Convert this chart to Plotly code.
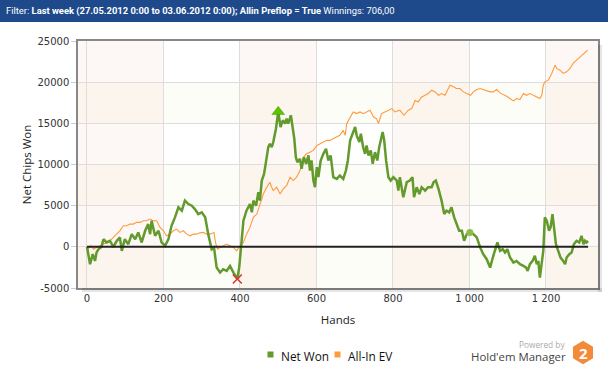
import math
import plotly.graph_objects as go

# ---------------- data ----------------
net_hands = [0, 8, 15, 21, 25, 30, 38, 43, 51, 60, 69, 78, 86, 91, 99, 108, 117, 126, 134, 143, 152,
             160, 165, 169, 178, 187, 195, 204, 213, 221, 230, 239, 248, 256, 265, 274, 282, 291, 300,
             309, 317, 326, 332, 339, 348, 356, 365, 374, 383, 393, 398, 403, 409, 417, 426, 431, 435,
             442, 448, 452, 457, 463, 470, 474, 478, 483, 487, 494, 500, 506, 512, 518, 522, 526, 533,
             538, 542, 546, 550, 557, 561, 567, 573, 579, 583, 587, 592, 596, 601, 605, 611, 618, 625,
             631, 637, 644, 653, 661, 670, 677, 682, 688, 695, 701, 705, 712, 716, 722, 727, 731, 736,
             742, 747, 753, 759, 764, 773, 777, 782, 788, 794, 801, 810, 814, 818, 827, 836, 844, 851,
             855, 862, 869, 875, 884, 892, 901, 906, 912, 919, 927, 934, 940, 947, 953, 960, 966, 973,
             980, 986, 993, 1001, 1010, 1019, 1028, 1036, 1045, 1054, 1061, 1067, 1073, 1080, 1087,
             1093, 1099, 1106, 1115, 1123, 1132, 1141, 1148, 1152, 1158, 1165, 1171, 1176, 1180, 1184,
             1189, 1193, 1197, 1202, 1208, 1212, 1217, 1222, 1226, 1232, 1238, 1245, 1250, 1254, 1261,
             1267, 1273, 1280, 1287, 1293, 1298, 1302, 1306, 1310]
net_won = [0, -2110, -890, -1710, -690, -290, 0, 930, 530, 730, 0, 730, 1140, -490, 930, 320, 1540,
           930, 1750, 530, 1950, 2760, 1540, 3170, 1340, 1950, 530, 120, 930, 2560, 3580, 4800, 4390,
           5610, 5200, 5000, 4590, 3980, 4190, 3580, 1540, -290, -80, -2520, -3130, -2720, -2930,
           -2320, -3130, -3900, -2500, 0, 3170, 4390, 5200, 4190, 5610, 5000, 6630, 5610, 8050, 8860,
           10890, 12110, 12520, 12110, 12720, 14350, 16400, 14550, 15370, 14960, 15570, 14960, 15980,
           14150, 13130, 10890, 10280, 10690, 9470, 10890, 10080, 11100, 9270, 10490, 8050, 7240,
           9680, 8460, 10490, 11300, 11910, 10490, 11100, 8460, 8250, 8660, 8250, 9270, 10490, 12930,
           13740, 14550, 13540, 12720, 13740, 12110, 11300, 12320, 11100, 11710, 10080, 11500, 10490,
           12110, 13940, 12930, 10490, 8460, 8050, 8460, 8050, 6830, 8460, 6020, 7850, 8050, 8460,
           6020, 7240, 6420, 7240, 6830, 7240, 7240, 7850, 8050, 7030, 5610, 3980, 4390, 4190, 4800,
           3580, 2760, 1950, 1950, 730, 1540, 1750, 1540, 1140, -80, -890, -1500, -2520, -1300, -490,
           530, -490, -290, -690, -290, -1300, -1910, -1710, -2110, -2320, -2520, -2930, -2110, -1710,
           -1100, -2110, -1710, -3740, -1710, -490, 3580, 3170, 1950, 2360, 3980, 1950, 330, -490,
           -1300, -1710, -2110, -1300, -890, -690, 330, 730, 530, 1340, 330, 730, 530, 706]

ev_hands = [0, 4, 10, 17, 25, 34, 43, 51, 60, 69, 78, 86, 95, 104, 112, 121, 130, 139, 147, 156, 165,
            173, 182, 187, 191, 200, 208, 217, 226, 234, 243, 252, 261, 269, 278, 287, 295, 304, 313,
            322, 332, 336, 341, 348, 356, 365, 374, 383, 391, 400, 409, 417, 426, 435, 444, 452, 461,
            470, 478, 483, 487, 496, 505, 513, 522, 531, 539, 548, 557, 566, 574, 583, 592, 601, 609,
            618, 627, 635, 644, 653, 661, 670, 675, 679, 688, 696, 705, 714, 722, 731, 740, 749, 757,
            762, 770, 779, 788, 797, 805, 814, 818, 829, 840, 849, 858, 866, 875, 884, 892, 901, 910,
            919, 927, 936, 942, 949, 958, 966, 975, 984, 993, 1003, 1010, 1019, 1028, 1036, 1045, 1054,
            1062, 1071, 1080, 1088, 1097, 1106, 1115, 1123, 1132, 1141, 1149, 1158, 1167, 1176, 1184,
            1189, 1193, 1197, 1206, 1215, 1224, 1228, 1237, 1245, 1254, 1263, 1271, 1280, 1289, 1298,
            1309]
allin_ev = [0, -200, 150, -290, -80, 120, 330, 530, 730, 1140, 1540, 1950, 2560, 2560, 2760, 2760,
            2970, 2970, 3170, 3170, 3370, 3170, 3170, 2760, 2360, 1950, 1340, 1540, 1950, 2150, 1750,
            1950, 1540, 1340, 1540, 1540, 1710, 1750, 1540, 1540, 1750, 530, -290, -80, 120, 330, 120,
            -80, -490, 120, 530, 1540, 2360, 3580, 3980, 5200, 6420, 7240, 7850, 7240, 6830, 7240, 6420,
            7030, 7440, 8460, 8050, 8460, 9270, 10890, 11300, 11500, 11710, 12320, 12520, 12720, 12930,
            12930, 13130, 13340, 13540, 14150, 13540, 14960, 15770, 16380, 16180, 16380, 16180, 16380,
            16590, 15770, 15570, 14960, 16180, 16380, 16590, 16790, 16380, 16590, 16590, 15980, 16590,
            16790, 17800, 17600, 18210, 18410, 18620, 19020, 18820, 18410, 18620, 18410, 19020, 19630,
            19430, 19230, 19230, 18820, 18620, 18410, 18820, 19110, 19230, 19110, 19020, 18820, 18820,
            19110, 18700, 18540, 18290, 18010, 17720, 18010, 17890, 18620, 18410, 18620, 18410, 18210,
            18010, 18410, 19630, 20040, 20240, 21060, 22070, 21670, 21460, 21060, 21260, 21670, 22280,
            22680, 23090, 23410, 23900]

x_tickvals = [0, 200, 400, 600, 800, 1000, 1200]
x_ticktext = ["0", "200", "400", "600", "800", "1 000", "1 200"]
y_tickvals = [-5000, 0, 5000, 10000, 15000, 20000, 25000]
y_ticktext = ["-5000", "0", "5000", "10000", "15000", "20000", "25000"]
series_names = ["Net Won", "All-In EV"]

GREEN = "#629a2c"
ORANGE = "#ff9a3c"

# plot geometry (pixels)
W, H = 608, 369
ML, MR, MT, MB = 78, 10, 41, 81
PW, PH = W - ML - MR, H - MT - MB
X_RANGE = [-23.5, 1336]
Y_RANGE = [-5000, 25000]


def px2paper(px, py):
    return (px - ML) / PW, 1 - (py - MT) / PH


fig = go.Figure()

fig.add_trace(go.Scatter(x=ev_hands, y=allin_ev, mode="lines", name=series_names[1],
                         line=dict(color=ORANGE, width=1.1), showlegend=False, hoverinfo="skip"))
fig.add_trace(go.Scatter(x=net_hands, y=net_won, mode="lines", name=series_names[0],
                         line=dict(color=GREEN, width=2.5), showlegend=False, hoverinfo="skip"))

imax = max(range(len(net_won)), key=lambda i: net_won[i])
imin = min(range(len(net_won)), key=lambda i: net_won[i])
fig.add_trace(go.Scatter(x=[net_hands[imax]], y=[net_won[imax]], mode="markers", showlegend=False,
                         marker=dict(symbol="triangle-up", size=11, color="#5cc400",
                                     line=dict(color="#4a9a00", width=0.5)), hoverinfo="skip"))
fig.add_trace(go.Scatter(x=[net_hands[imin]], y=[net_won[imin]], mode="markers", showlegend=False,
                         marker=dict(symbol="x-thin", size=9, color="#e23030",
                                     line=dict(color="#e23030", width=1.5)), hoverinfo="skip"))
ihl = net_hands.index(1001)
fig.add_trace(go.Scatter(x=[net_hands[ihl]], y=[net_won[ihl]], mode="markers", showlegend=False,
                         marker=dict(symbol="circle", size=7, color="#8cbc48"), hoverinfo="skip"))

shapes = []
col_edges = [X_RANGE[0]] + x_tickvals[1:] + [X_RANGE[1]]
for i in range(0, len(col_edges) - 1, 2):
    shapes.append(dict(type="rect", xref="x", yref="paper", x0=col_edges[i], x1=col_edges[i + 1],
                       y0=0, y1=1, fillcolor="rgba(235,170,150,0.09)", line=dict(width=0),
                       layer="below"))
for i in range(0, len(y_tickvals) - 1, 2):
    shapes.append(dict(type="rect", xref="paper", yref="y", x0=0, x1=1,
                       y0=y_tickvals[i], y1=y_tickvals[i + 1],
                       fillcolor="rgba(225,225,140,0.07)", line=dict(width=0), layer="below"))
shapes.append(dict(type="line", xref="x", yref="y", x0=net_hands[0], x1=net_hands[-1], y0=0, y1=0,
                   line=dict(color="#222222", width=2)))
sx, sy = 4 / PW, 4 / PH
shapes.append(dict(type="rect", xref="paper", yref="paper", x0=1, x1=1 + sx, y0=-sy, y1=1 - sy,
                   fillcolor="rgba(0,0,0,0.10)", line=dict(width=0)))
shapes.append(dict(type="rect", xref="paper", yref="paper", x0=sx, x1=1 + sx, y0=-sy, y1=0,
                   fillcolor="rgba(0,0,0,0.10)", line=dict(width=0)))
shapes.append(dict(type="rect", xref="paper", yref="paper", x0=-ML / PW, x1=1 + MR / PW,
                   y0=1 + (MT - 22) / PH, y1=1 + MT / PH, fillcolor="#1e4a8c", line=dict(width=0)))
# logo hexagon
cx, cy, rx, ry = 583, 352.5, 10, 11.7
pts = []
for k in range(6):
    a = math.radians(90 + 60 * k)
    pts.append(px2paper(cx + rx * math.cos(a) / math.cos(math.radians(30)), cy - ry * math.sin(a)))
path = "M " + " L ".join(f"{x:.4f},{y:.4f}" for x, y in pts) + " Z"
shapes.append(dict(type="path", xref="paper", yref="paper", path=path, fillcolor="#f28a3a",
                   line=dict(width=0)))

annotations = []
# manual legend
legend_items = [(series_names[0], GREEN, 267.5, 279), (series_names[1], ORANGE, 334.5, 345.5)]
for name, col, sqx, tx in legend_items:
    x0, y0 = px2paper(sqx, 357.5)
    x1, y1 = px2paper(sqx + 6, 351.5)
    shapes.append(dict(type="rect", xref="paper", yref="paper", x0=x0, x1=x1, y0=y0, y1=y1,
                       fillcolor=col, line=dict(width=0)))
    ax_, ay_ = px2paper(tx, 355.5)
    annotations.append(dict(xref="paper", yref="paper", x=ax_, y=ay_, xanchor="left",
                            yanchor="middle", showarrow=False, text=name,
                            font=dict(family="Open Sans", size=11.8, color="#111111")))

hx, hy = px2paper(4, 11)
annotations.append(dict(xref="paper", yref="paper", x=hx, y=hy, xanchor="left", yanchor="middle",
                        showarrow=False,
                        text="Filter: <b>Last week (27.05.2012 0:00 to 03.06.2012 0:00); Allin Preflop = True</b> Winnings: 706,00",
                        font=dict(family="Roboto", size=9.4, color="white")))
ax_, ay_ = px2paper(567, 344)
annotations.append(dict(xref="paper", yref="paper", x=ax_, y=ay_, xanchor="right", yanchor="middle",
                        showarrow=False, text="Powered by",
                        font=dict(family="Open Sans", size=8.3, color="#aaaaaa")))
ax_, ay_ = px2paper(567.5, 356)
annotations.append(dict(xref="paper", yref="paper", x=ax_, y=ay_, xanchor="right", yanchor="middle",
                        showarrow=False, text="Hold'em Manager",
                        font=dict(family="Open Sans", size=11.4, color="#444444")))
ax_, ay_ = px2paper(cx, cy + 0.5)
annotations.append(dict(xref="paper", yref="paper", x=ax_, y=ay_, xanchor="center", yanchor="middle",
                        showarrow=False, text="<b>2</b>",
                        font=dict(family="Open Sans", size=15, color="white")))

fig.update_layout(
    width=W, height=H,
    margin=dict(l=ML, r=MR, t=MT, b=MB, pad=0, autoexpand=False),
    paper_bgcolor="white", plot_bgcolor="white",
    shapes=shapes, annotations=annotations,
    showlegend=False,
    xaxis=dict(range=X_RANGE, tickvals=x_tickvals, ticktext=x_ticktext, showgrid=True,
               gridcolor="#dddddd", gridwidth=1, zeroline=False, showline=True, linecolor="#888888",
               linewidth=1.5, mirror=True, ticks="", ticklen=0, automargin=False,
               tickfont=dict(family="DejaVu Sans", size=10, color="#333333"),
               title=dict(text="Hands", font=dict(family="Open Sans", size=11.5, color="#222222"),
                          standoff=13)),
    yaxis=dict(range=Y_RANGE, tickvals=y_tickvals, ticktext=y_ticktext, showgrid=True,
               gridcolor="#dddddd", gridwidth=1, zeroline=False, showline=True, linecolor="#888888",
               linewidth=1.5, mirror=True, ticks="outside", ticklen=5, tickcolor="#cccccc",
               automargin=False,
               tickfont=dict(family="DejaVu Sans", size=10, color="#333333"),
               title=dict(text="Net Chips Won", font=dict(family="Open Sans", size=11.5, color="#222222"),
                          standoff=3)),
)

fig.write_html("out.html", config={"displayModeBar": False},
               post_script="document.body.style.margin='0';")
